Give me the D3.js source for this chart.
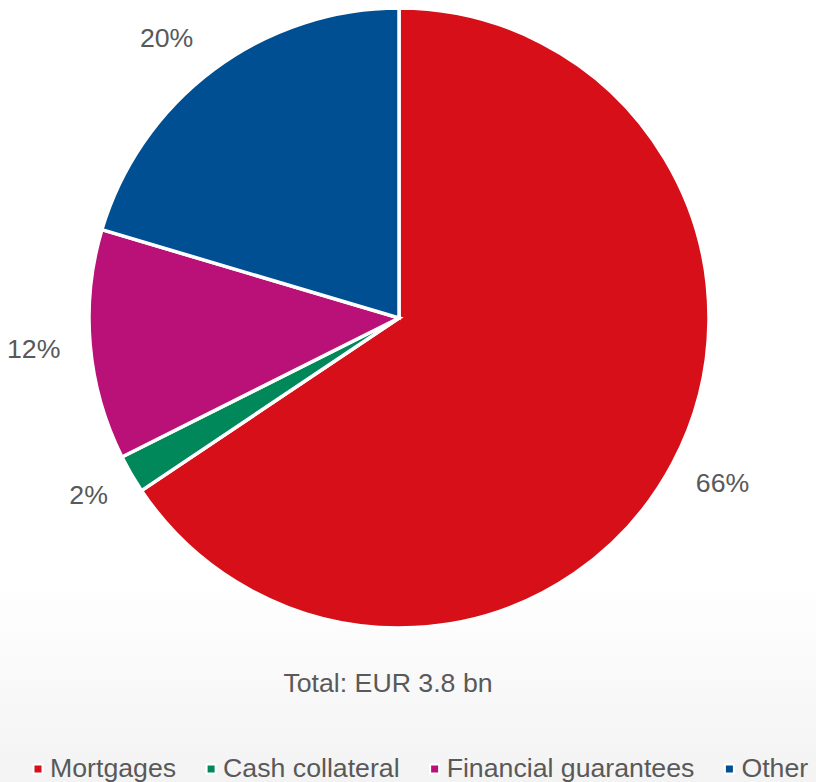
<!DOCTYPE html>
<html>
<head>
<meta charset="utf-8">
<script src="https://cdn.jsdelivr.net/npm/d3@7"></script>
<style>
  html, body { margin: 0; padding: 0; background: #fff; }
  svg { display: block; }
  text { font-family: "Liberation Sans", Arial, sans-serif; fill: #595959; }
</style>
</head>
<body>
<div id="chart"></div>
<script>
// data
var categories = ["Mortgages", "Cash collateral", "Financial guarantees", "Other"];
var shares = [65.6, 2.0, 12.0, 20.4];
var colors = ["#d60f18", "#00875a", "#b91177", "#004f93"];
var totalLabel = "Total: EUR 3.8 bn";

var width = 816, height = 782;
var cx = 399, cy = 318, radius = 310;

var svg = d3.select("#chart").append("svg")
  .attr("width", width)
  .attr("height", height);

// light grey fade at the bottom
var grad = svg.append("defs").append("linearGradient")
  .attr("id", "bg").attr("x1", 0).attr("y1", 0).attr("x2", 0).attr("y2", 1);
grad.append("stop").attr("offset", "0.74").attr("stop-color", "#ffffff");
grad.append("stop").attr("offset", "1").attr("stop-color", "#f3f3f3");
svg.append("rect").attr("width", width).attr("height", height).attr("fill", "url(#bg)");

var data = categories.map(function(c, i) { return {name: c, value: shares[i], color: colors[i]}; });

var pie = d3.pie()
  .sort(null)
  .value(function(d) { return d.value; });

var arc = d3.arc()
  .innerRadius(0)
  .outerRadius(radius);

var g = svg.append("g")
  .attr("transform", "translate(" + cx + "," + cy + ")");

var arcs = pie(data);

g.selectAll(".slice")
  .data(arcs)
  .enter().append("path")
  .attr("class", "slice")
  .attr("d", arc)
  .attr("fill", function(d) { return d.data.color; })
  .attr("stroke", "#fff")
  .attr("stroke-width", 3.5)
  .attr("stroke-linejoin", "miter");

// outside-end labels
var fmt = d3.format(".0f");
var gap = 30, capH = 19;
g.selectAll(".lbl")
  .data(arcs)
  .enter().append("text")
  .attr("class", "lbl")
  .style("font-size", "26.7px")
  .attr("text-anchor", "middle")
  .text(function(d) { return fmt(d.data.value) + "%"; })
  .each(function(d) {
    var a = (d.startAngle + d.endAngle) / 2;
    var ux = Math.sin(a), uy = -Math.cos(a);
    var w = this.getComputedTextLength();
    var x = ux * (radius + gap) + ux * w / 2;
    var y = uy * (radius + gap) + uy * capH / 2;
    // top-left label sits a bit further out horizontally
    if (uy < -0.5) x += ux * 22;
    d3.select(this).attr("x", x).attr("y", y + capH / 2);
  });

svg.append("text")
  .attr("x", 388)
  .attr("y", 692)
  .attr("text-anchor", "middle")
  .style("font-size", "26.7px")
  .text(totalLabel);

// legend
var legend = svg.append("g").attr("transform", "translate(33,777)");
var lx = 0;
data.forEach(function(d) {
  var item = legend.append("g").attr("transform", "translate(" + lx + ",0)");
  item.append("rect")
    .attr("x", 0.5).attr("y", -12.5)
    .attr("width", 9).attr("height", 9)
    .attr("fill", d.color)
    .attr("stroke", "#fff").attr("stroke-width", 2);
  var t = item.append("text")
    .attr("x", 17)
    .attr("y", 0)
    .style("font-size", "26.7px")
    .text(d.name);
  lx += 17 + t.node().getComputedTextLength() + 30;
});
</script>
</body>
</html>
